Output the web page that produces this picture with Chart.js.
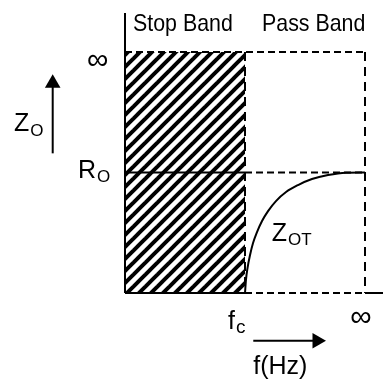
<!DOCTYPE html>
<html>
<head>
<meta charset="utf-8">
<script src="https://cdn.jsdelivr.net/npm/chart.js@4.4.1/dist/chart.umd.min.js"></script>
<style>
  html, body { margin: 0; padding: 0; background: #ffffff; }
  #wrap { width: 383px; height: 382px; }
</style>
</head>
<body>
<div id="wrap"><canvas id="c" width="383" height="382"></canvas></div>
<script>
// ---- data (arbitrary normalized units) ----
const bandLabels = ['Stop Band', 'Pass Band'];
const fCutoff = 1;        // f_c
const fInfinity = 2;      // ∞ on frequency axis
const zR0 = 1;            // R_o
const zInfinity = 2;      // ∞ on impedance axis
const xTickLabels = ['f', '∞'];      // f_c, ∞
const yTickLabels = ['R', '∞'];      // R_o, ∞
// Z_OT curve
const curveF = [1.0, 1.008, 1.021, 1.042, 1.067, 1.1, 1.142, 1.192, 1.258, 1.342, 1.442, 1.558, 1.692, 1.842, 2.0];
const curveZ = [0.0, 0.108, 0.207, 0.315, 0.415, 0.506, 0.598, 0.680, 0.763, 0.838, 0.896, 0.946, 0.979, 0.998, 1.0];

// ---- hatch pattern ----
function hatch() {
  const p = document.createElement('canvas');
  p.width = 12; p.height = 12;
  const g = p.getContext('2d');
  g.strokeStyle = '#000';
  g.lineWidth = 4;
  g.lineCap = 'square';
  [0, 12, 24].forEach(k => {
    g.beginPath(); g.moveTo(k + 2, -2); g.lineTo(-2, k + 2); g.stroke();
  });
  return g.createPattern(p, 'repeat');
}

const seg = (x1, y1, x2, y2) => [{x: x1, y: y1}, {x: x2, y: y2}];
const xRightEdge = 2.2, yTopAxis = 2.324;

const solid = {borderColor: '#000', borderWidth: 2, pointRadius: 0, fill: false, tension: 0};
const dashH = Object.assign({}, solid, {borderWidth: 2, borderDash: [7, 4]});
const dashV = Object.assign({}, solid, {borderWidth: 2, borderDash: [9, 6]});

const datasets = [
  // stop band hatched area
  {data: seg(0, zInfinity, fCutoff, zInfinity), fill: 'origin', backgroundColor: hatch(),
   borderWidth: 0, borderColor: 'rgba(0,0,0,0)', pointRadius: 0},
  // dashed frame lines
  Object.assign({data: seg(0, zInfinity, fInfinity, zInfinity)}, dashH),
  Object.assign({data: seg(fInfinity, zInfinity, fInfinity, 0)}, dashV),
  Object.assign({data: seg(fCutoff, zInfinity, fCutoff, 0)}, dashV),
  Object.assign({data: seg(fCutoff, zR0, fInfinity, zR0)}, dashH),
  Object.assign({data: seg(fCutoff, 0, fInfinity, 0)}, dashH),
  // solid lines
  Object.assign({data: seg(0, yTopAxis, 0, 0)}, solid),
  Object.assign({data: seg(0, 0, fCutoff, 0)}, solid),
  Object.assign({data: seg(fInfinity, 0, xRightEdge, 0)}, solid),
  Object.assign({data: seg(0, zR0, fCutoff, zR0)}, solid),
  // Z_OT curve
  Object.assign({data: curveF.map((f, i) => ({x: f, y: curveZ[i]})), cubicInterpolationMode: 'monotone'}, solid),
  // arrows
  {data: seg(-0.6025, 1.159, -0.6025, 1.74), borderColor: '#000', borderWidth: 2,
   pointRadius: [0, 9], pointStyle: 'triangle', rotation: 0, pointBackgroundColor: '#000', pointBorderWidth: 0},
  {data: seg(1.069, -0.396, 1.6, -0.396), borderColor: '#000', borderWidth: 2,
   pointRadius: [0, 9], pointStyle: 'triangle', rotation: 90, pointBackgroundColor: '#000', pointBorderWidth: 0}
];

// ---- text annotations placed in data units ----
const FONT = '"Liberation Sans", Arial, sans-serif';
const texts = [
  {t: bandLabels[0], x: 0.067, y: 2.174, size: 24, sx: 0.89},
  {t: bandLabels[1], x: 1.142, y: 2.174, size: 24, sx: 0.89},
  {t: 'Z', sub: 'O', x: -0.925, y: 1.347, size: 25, subSize: 17, dy: 5},
  {t: yTickLabels[0], sub: 'O', x: -0.392, y: zR0 - 0.043, size: 25, subSize: 17, dy: 4},
  {t: 'Z', sub: 'OT', x: 1.223, y: 0.432, size: 25, subSize: 17, dy: 4},
  {t: xTickLabels[0], sub: 'c', x: fCutoff - 0.142, y: -0.299, size: 25, subSize: 19, dy: 4},
  {t: 'f(Hz)', x: 1.069, y: -0.672, size: 25},
  {t: yTickLabels[1], x: -0.227, y: 1.925, size: 30, center: true},
  {t: xTickLabels[1], x: 1.967, y: -0.203, size: 30, center: true}
];

const textPlugin = {
  id: 'texts',
  afterDatasetsDraw(chart) {
    const ctx = chart.ctx, sx = chart.scales.x, sy = chart.scales.y;
    ctx.save();
    ctx.fillStyle = '#000';
    texts.forEach(o => {
      const px = sx.getPixelForValue(o.x), py = sy.getPixelForValue(o.y);
      ctx.font = o.size + 'px ' + FONT;
      if (o.center) {
        ctx.textAlign = 'center'; ctx.textBaseline = 'middle';
        ctx.fillText(o.t, px, py);
        return;
      }
      ctx.textAlign = 'left'; ctx.textBaseline = 'alphabetic';
      ctx.save();
      ctx.translate(px, py);
      ctx.scale(o.sx || 1, 1);
      ctx.fillText(o.t, 0, 0);
      const w = ctx.measureText(o.t).width;
      if (o.sub) {
        ctx.font = o.subSize + 'px ' + FONT;
        ctx.fillText(o.sub, w + 1, o.dy);
      }
      ctx.restore();
    });
    ctx.restore();
  }
};

new Chart(document.getElementById('c'), {
  type: 'line',
  data: {datasets},
  options: {
    responsive: false,
    animation: false,
    events: [],
    layout: {padding: 0, autoPadding: false},
    scales: {
      x: {type: 'linear', display: false, min: -125 / 120, max: 258 / 120},
      y: {type: 'linear', display: false, min: -89 / 120.5, max: 293 / 120.5}
    },
    plugins: {legend: {display: false}, tooltip: {enabled: false}}
  },
  plugins: [textPlugin]
});
</script>
</body>
</html>
